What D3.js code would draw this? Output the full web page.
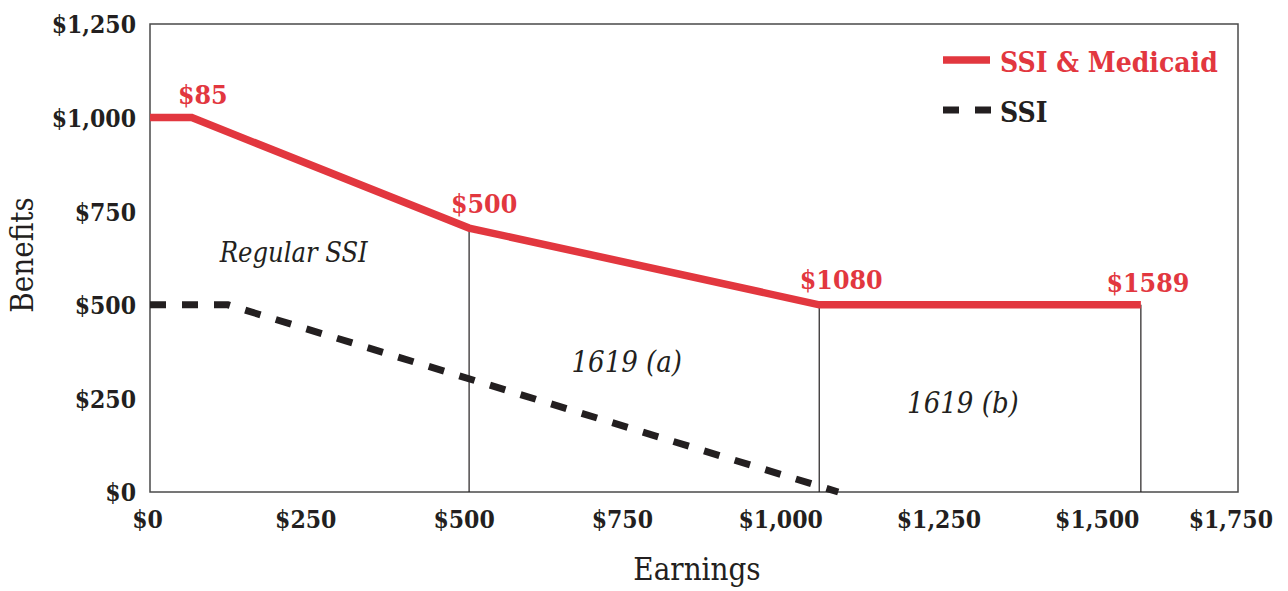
<!DOCTYPE html>
<html>
<head>
<meta charset="utf-8">
<script src="https://cdn.jsdelivr.net/npm/d3@7"></script>
<style>
  html, body { margin: 0; padding: 0; background: #fff; }
  svg { display: block; }
  text { font-family: "DejaVu Serif Condensed", "DejaVu Serif", serif; font-stretch: condensed; }
</style>
</head>
<body>
<svg id="chart" width="1288" height="591"></svg>
<script>
// ---- data ----
const xTickValues = [0, 250, 500, 750, 1000, 1250, 1500, 1750];
const yTickValues = [0, 250, 500, 750, 1000, 1250];
const xTickLabels = ["$0", "$250", "$500", "$750", "$1,000", "$1,250", "$1,500", "$1,750"];
const yTickLabels = ["$0", "$250", "$500", "$750", "$1,000", "$1,250"];

const ssiMedicaidEarnings = [0, 66, 504, 1057, 1565];
const ssiMedicaidBenefits = [1000, 1000, 705, 500, 500];
const ssiEarnings = [0, 123, 1087];
const ssiBenefits = [500, 500, 0];

const breakLabels = ["$85", "$500", "$1080", "$1589"];   // attached to points 1..4 of SSI & Medicaid
const regionLabels = ["Regular SSI", "1619 (a)", "1619 (b)"];
const seriesNames = ["SSI & Medicaid", "SSI"];

// ---- layout ----
const svg = d3.select("#chart");
const RED = "#E2373F", BLACK = "#231F20";
const plotLeft = 150, plotRight = 1238, plotTop = 24, plotBottom = 492;

const x = d3.scaleLinear().domain([0, 1750]).range([plotLeft, 1258]);
const y = d3.scaleLinear().domain([0, 1250]).range([plotBottom, plotTop]);

// frame
svg.append("rect")
  .attr("x", plotLeft).attr("y", plotTop)
  .attr("width", plotRight - plotLeft).attr("height", plotBottom - plotTop)
  .attr("fill", "none").attr("stroke", "#4a4a4a").attr("stroke-width", 1.5);

// x tick labels
const xAxis = d3.axisBottom(x).tickValues(xTickValues)
  .tickFormat((d, i) => xTickLabels[i]).tickSize(0).tickPadding(0);
const gx = svg.append("g").attr("transform", `translate(0,${plotBottom})`).call(xAxis);
gx.select(".domain").remove();
gx.selectAll("text")
  .attr("y", 36).attr("dy", null).attr("dx", -3)
  .attr("font-size", 24.5).attr("font-weight", "bold").attr("fill", BLACK)
  .style("font-family", '"DejaVu Serif Condensed", "DejaVu Serif", serif');
// keep last label inside the picture
gx.selectAll("text").each(function () {
  const t = d3.select(this);
  const tx = +d3.select(this.parentNode).attr("transform").match(/translate\(([-\d.]+)/)[1];
  const bb = this.getBBox();
  const right = tx + bb.x + bb.width;
  if (right > 1273) t.attr("dx", -3 - (right - 1273));
});

// y tick labels
const yAxis = d3.axisLeft(y).tickValues(yTickValues)
  .tickFormat((d, i) => yTickLabels[i]).tickSize(0).tickPadding(14);
const gy = svg.append("g").attr("transform", `translate(${plotLeft},0)`).call(yAxis);
gy.select(".domain").remove();
gy.selectAll("text")
  .attr("dy", "0.36em")
  .attr("font-size", 24.5).attr("font-weight", "bold").attr("fill", BLACK)
  .style("font-family", '"DejaVu Serif Condensed", "DejaVu Serif", serif');

// axis titles
svg.append("text")
  .attr("x", (plotLeft + plotRight) / 2 + 3).attr("y", 580)
  .attr("text-anchor", "middle").attr("font-size", 31).attr("fill", BLACK)
  .text("Earnings");
svg.append("text")
  .attr("transform", `translate(33,${(plotTop + plotBottom) / 2 - 3}) rotate(-90)`)
  .attr("text-anchor", "middle").attr("font-size", 31).attr("fill", BLACK)
  .text("Benefits");

// vertical guide lines at the SSI & Medicaid break points
[2, 3, 4].forEach(i => {
  svg.append("line")
    .attr("x1", x(ssiMedicaidEarnings[i])).attr("x2", x(ssiMedicaidEarnings[i]))
    .attr("y1", y(ssiMedicaidBenefits[i])).attr("y2", y(0))
    .attr("stroke", BLACK).attr("stroke-width", 1.2);
});

const line = d3.line().x(d => x(d[0])).y(d => y(d[1]));

// SSI dashed
svg.append("path")
  .datum(ssiEarnings.map((e, i) => [e, ssiBenefits[i]]))
  .attr("d", line).attr("fill", "none")
  .attr("stroke", BLACK).attr("stroke-width", 7)
  .attr("stroke-dasharray", "16,16");

// SSI & Medicaid
svg.append("path")
  .datum(ssiMedicaidEarnings.map((e, i) => [e, ssiMedicaidBenefits[i]]))
  .attr("d", line).attr("fill", "none")
  .attr("stroke", RED).attr("stroke-width", 7.5)
  .attr("stroke-linejoin", "miter");

// break-point labels
const labelOffsets = [[11, -14], [15, -15], [22, -16], [7, -13]];
breakLabels.forEach((lab, k) => {
  const i = k + 1;
  svg.append("text")
    .attr("x", x(ssiMedicaidEarnings[i]) + labelOffsets[k][0])
    .attr("y", y(ssiMedicaidBenefits[i]) + labelOffsets[k][1])
    .attr("text-anchor", "middle").attr("font-size", 26.5).attr("font-weight", "bold")
    .attr("fill", RED).text(lab);
});

// region labels (placed in data coordinates)
const regionAnchors = [[227, 614], [753, 320], [1284, 211]];
const regionSizes = [27, 29, 29];
regionLabels.forEach((lab, i) => {
  svg.append("text")
    .attr("x", x(regionAnchors[i][0])).attr("y", y(regionAnchors[i][1]))
    .attr("text-anchor", "middle").attr("font-size", regionSizes[i]).attr("font-style", "italic")
    .attr("fill", BLACK).text(lab);
});

// legend
const lg = svg.append("g").attr("transform", "translate(943,0)");
lg.append("line").attr("x1", 0).attr("x2", 47).attr("y1", 60).attr("y2", 60)
  .attr("stroke", RED).attr("stroke-width", 7.5);
lg.append("line").attr("x1", 0).attr("x2", 48).attr("y1", 110).attr("y2", 110)
  .attr("stroke", BLACK).attr("stroke-width", 7).attr("stroke-dasharray", "16,16");
lg.append("text").attr("x", 57).attr("y", 72).attr("font-size", 28).attr("font-weight", "bold")
  .attr("fill", RED).text(seriesNames[0]);
lg.append("text").attr("x", 57).attr("y", 122).attr("font-size", 28).attr("font-weight", "bold")
  .attr("fill", BLACK).text(seriesNames[1]);
</script>
</body>
</html>
